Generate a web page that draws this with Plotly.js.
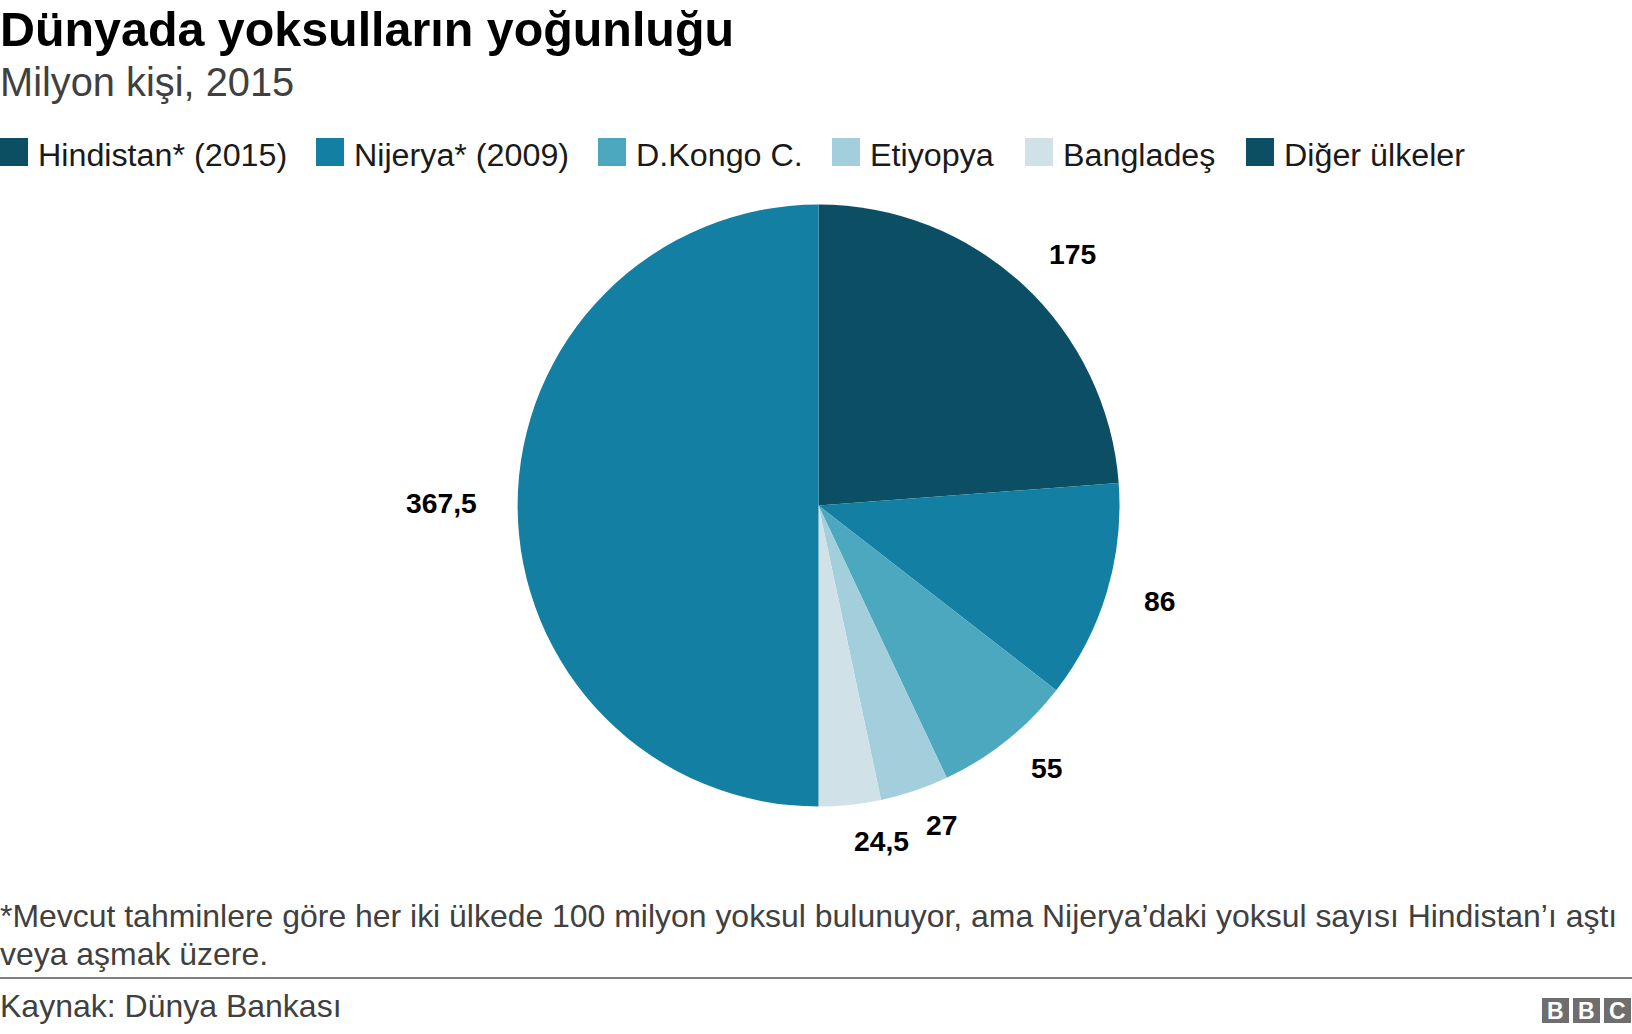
<!DOCTYPE html>
<html><head><meta charset="utf-8">
<script src="https://cdn.plot.ly/plotly-3.0.0.min.js"></script>
<style>html,body{margin:0;padding:0;background:#fff}#c{width:1632px;height:1034px}</style></head>
<body><div id="c"></div>
<script>
const categories = ["Hindistan* (2015)","Nijerya* (2009)","D.Kongo C.","Etiyopya","Bangladeş","Diğer ülkeler"];
const values = [175,86,55,27,24.5,367.5];
const valueLabels = ["175","86","55","27","24,5","367,5"];
const sliceColors = ["#0c4f64","#137fa3","#4ca8bf","#a3cedc","#d0e2e8","#137fa3"];
const legendColors = ["#0c4f64","#137fa3","#4ca8bf","#a3cedc","#d0e2e8","#0c4f64"];
const legendSwatchX = [0,316,598,832,1025,1246];
const labelNudgeX = [19,9.5,12,13,27,-31];
const labelNudgeY = [2.5,-4,-8,-9,-9,-3];
const W=1632,H=1034, font="Liberation Sans, Arial, sans-serif";
const cx=818.5, cy=505.5, r=301;
const px=x=>x/W, py=y=>1-y/H;
const ann=[], shapes=[];
function text(t,x,y,size,color,bold,anchor){ann.push({text:bold?'<b>'+t+'</b>':t,x:px(x),y:py(y),xref:'paper',yref:'paper',xanchor:anchor||'left',yanchor:'middle',showarrow:false,align:'left',font:{family:font,size:size,color:color}});}
text("Dünyada yoksulların yoğunluğu",-2,29,48.4,"#000",true);
text("Milyon kişi, 2015",-2,82,39.8,"#404040",false);
categories.forEach((c,i)=>{
  shapes.push({type:'rect',xref:'paper',yref:'paper',x0:px(legendSwatchX[i]),x1:px(legendSwatchX[i]+28),y0:py(166),y1:py(138),fillcolor:legendColors[i],line:{width:0}});
  text(c,legendSwatchX[i]+36,155.5,32.25,"#1a1a1a",false);
});
text("*Mevcut tahminlere göre her iki ülkede 100 milyon yoksul bulunuyor, ama Nijerya’daki yoksul sayısı Hindistan’ı aştı",-2,916,31.95,"#404040",false);
text("veya aşmak üzere.",-2,954,31.95,"#404040",false);
text("Kaynak: Dünya Bankası",-2,1006,32,"#404040",false);
shapes.push({type:'line',xref:'paper',yref:'paper',x0:0,x1:1,y0:py(978),y1:py(978),line:{color:'#7f7f7f',width:2}});
["B","B","C"].forEach((b,i)=>{
  const x=1542+i*31;
  shapes.push({type:'rect',xref:'paper',yref:'paper',x0:px(x),x1:px(x+27),y0:py(1023),y1:py(998),fillcolor:'#6e6e6e',line:{width:0}});
  ann.push({text:'<b>'+b+'</b>',x:px(x+13.5),y:py(1011),xref:'paper',yref:'paper',showarrow:false,xanchor:'center',yanchor:'middle',font:{family:font,size:23,color:'#fff'}});
});
// value labels placed around the pie from each slice's mid-angle
const total=values.reduce((a,b)=>a+b,0);
let cum=0;
values.forEach((v,i)=>{
  const a=(cum+v/2)/total*2*Math.PI; cum+=v;
  const lx=cx+r*1.15*Math.sin(a)+labelNudgeX[i], ly=cy-r*1.15*Math.cos(a)+labelNudgeY[i];
  text('<b>'+valueLabels[i]+'</b>',lx,ly,28.3,"#000",false,'center');
});
const data=[{type:'pie',labels:categories,values:values,textinfo:'none',sort:false,direction:'clockwise',rotation:0,
  marker:{colors:sliceColors,line:{width:0}},
  automargin:false,domain:{x:[(cx-r)/W,(cx+r)/W],y:[1-(cy+r)/H,1-(cy-r)/H]},showlegend:false,hoverinfo:'label+value'}];
Plotly.newPlot('c',data,{width:W,height:H,margin:{l:0,r:0,t:0,b:0},paper_bgcolor:'#fff',showlegend:false,annotations:ann,shapes:shapes},{displayModeBar:false});
</script></body></html>
